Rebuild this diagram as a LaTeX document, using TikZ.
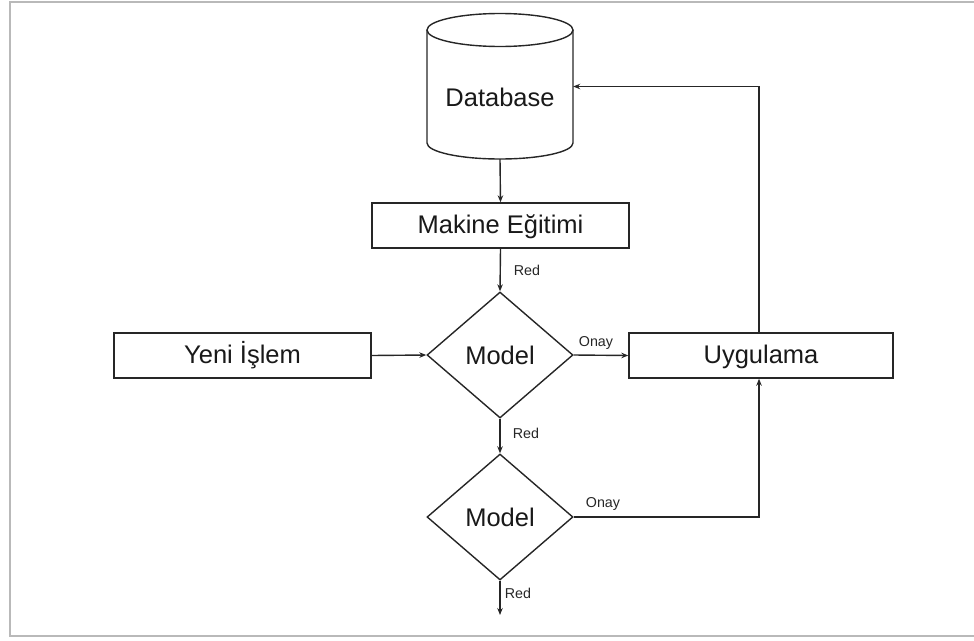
\documentclass[tikz,border=0pt]{standalone}
\usepackage{fontspec}
\setmainfont{Liberation Sans}
\usetikzlibrary{arrows.meta,shapes.geometric}
\tikzset{
  ln/.style={line width=1.4pt, draw=black!85},
  arr/.style={ln, -{Stealth[length=7pt,width=5.5pt]}},
  box/.style={ln, rectangle, minimum width=257pt, minimum height=45pt, inner sep=0pt, font=\fontsize{25.5}{29}\selectfont, text=black!90, text height=18pt, text depth=3pt},
  dia/.style={ln, diamond, aspect=1.16, minimum width=146pt, minimum height=126pt, inner sep=0pt, font=\fontsize{25.5}{29}\selectfont, text=black!90},
  lbl/.style={font=\fontsize{14.3}{16}\selectfont, text=black!85, inner sep=0pt},
}
\begin{document}
\begin{tikzpicture}[x=1pt,y=-1pt]
\useasboundingbox (0,0) rectangle (974,640);
\draw[gray!55, line width=1.6pt] (974,2) -- (10,2) -- (10,636) -- (974,636);
% cylinder
\draw[ln] (427,30) -- (427,143) arc[start angle=180, end angle=0, x radius=73, y radius=16] -- (573,30);
\draw[ln] (500,30) ellipse[x radius=73, y radius=16.5];
\node[minimum width=146pt, minimum height=145pt, inner sep=0pt] (db) at (500,86.5) {};
\node[font=\fontsize{25.5}{29}\selectfont, text=black!90] (dbt) at (500,97) {Database};
% nodes
\node[box] (mk) at (500.5,225.5) {Makine Eğitimi};
\node[dia] (m1) at (500,355) {Model};
\node[box] (yi) at (242.5,355.5) {Yeni İşlem};
\node[box, minimum width=264pt] (ug) at (761,355.5) {Uygulama};
\node[dia] (m2) at (500,517) {Model};
\coordinate (end) at (500,615);
\coordinate (c1) at (759,517);
% connectors
\draw[arr] (db.south) -- (mk.north);
\draw[arr] (mk.south) -- (m1.north);
\draw[arr] (yi.east) -- (m1.west);
\draw[arr] (m1.east) -- (ug.west);
\draw[arr] (m1.south) -- (m2.north);
\draw[arr] (m2.south) -- (end);
\draw[arr] (m2.east) -- (c1) -- (c1 |- ug.south);
\draw[arr] (c1 |- ug.north) -- (c1 |- db.east) -- (db.east);
% labels
\node[lbl] (r1) at (527,270) {Red};
\node[lbl] (o1) at (596,343) {Onay};
\node[lbl] (r2) at (526,433) {Red};
\node[lbl] (o2) at (603,504) {Onay};
\node[lbl] (r3) at (518,593) {Red};
\end{tikzpicture}
\end{document}
